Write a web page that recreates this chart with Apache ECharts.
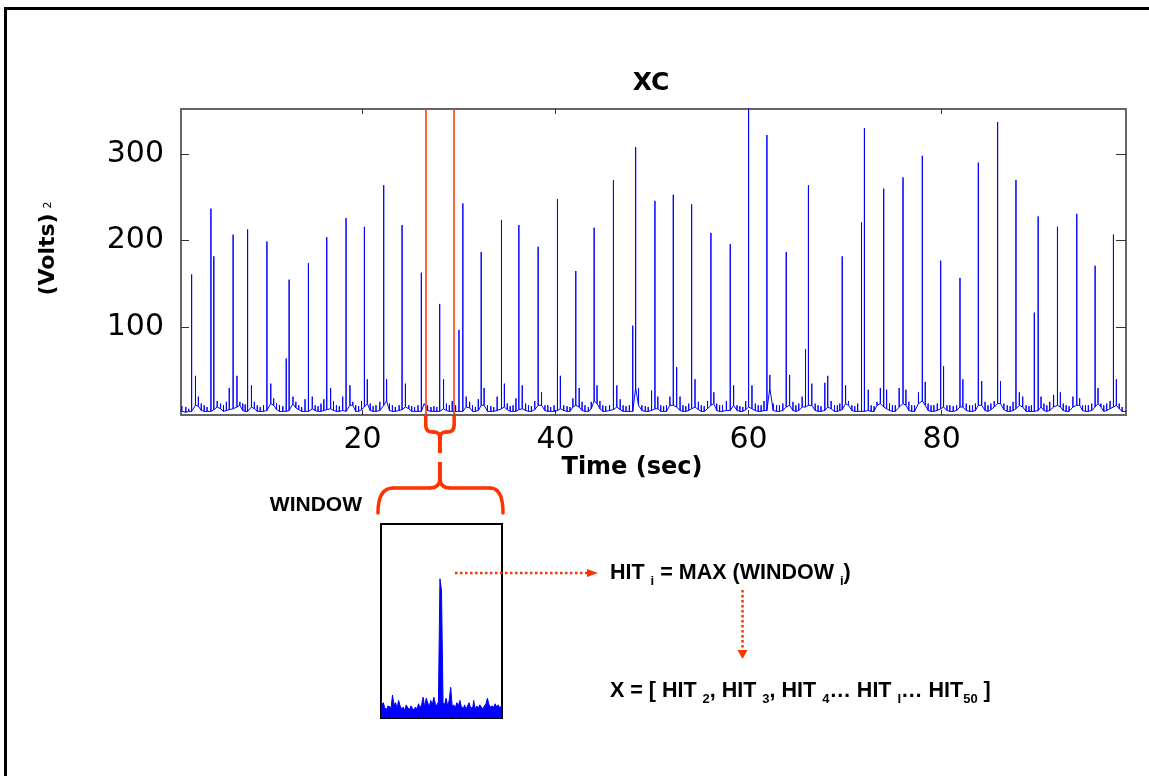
<!DOCTYPE html>
<html><head><meta charset="utf-8">
<script src="https://cdn.jsdelivr.net/npm/echarts@6/dist/echarts.min.js"></script>
<style>html,body{margin:0;padding:0;background:#fff}#c{width:1149px;height:776px}</style>
</head><body><div id="c"></div>
<script>
// ---------- DATA ----------
const chartTitle = 'XC';
const xName = 'Time (sec)';
const xMin = 1.2, xMax = 99.1;
const yMin = -1.2, yMax = 352;
const xTicks = [20, 40, 60, 80];
const yTicks = [100, 200, 300];
const windowStart = 26.55, windowEnd = 29.5;

// spikes of the XC trace: time (s), peak height, local baseline level
const spikeTime = [
  1.3, 1.7, 2.0, 2.3, 2.7, 3.0,
  3.3, 3.6, 3.9, 4.3, 4.6, 4.95,
  5.3, 5.6, 5.9, 6.2, 6.6, 7.0,
  7.3, 7.6, 7.85, 8.1, 8.5, 8.8,
  9.1, 9.4, 9.75, 10.1, 10.5, 10.8,
  11.1, 11.4, 11.75, 12.1, 12.4, 12.8,
  13.1, 13.4, 13.7, 14.05, 14.4, 14.8,
  15.1, 15.4, 15.7, 16.0, 16.3, 16.7,
  17.0, 17.3, 17.6, 17.95, 18.3, 18.7,
  19.0, 19.3, 19.6, 19.9, 20.2, 20.5,
  20.8, 21.1, 21.4, 21.8, 22.2, 22.5,
  22.8, 23.1, 23.4, 23.8, 24.1, 24.45,
  24.8, 25.1, 25.4, 25.75, 26.1, 26.4,
  26.75, 27.1, 27.4, 27.7, 28.0, 28.4,
  28.7, 29.0, 29.3, 29.65, 30.0, 30.4,
  30.75, 31.1, 31.4, 31.7, 32.0, 32.3,
  32.6, 32.95, 33.3, 33.6, 33.95, 34.4,
  34.7, 35.0, 35.3, 35.6, 35.9, 36.2,
  36.55, 36.9, 37.2, 37.5, 37.85, 38.2,
  38.55, 38.9, 39.2, 39.5, 39.85, 40.2,
  40.5, 40.85, 41.2, 41.5, 41.8, 42.1,
  42.45, 42.75, 43.05, 43.4, 43.7, 44.0,
  44.3, 44.6, 44.9, 45.2, 45.6, 46.0,
  46.35, 46.7, 47.0, 47.3, 47.65, 48.0,
  48.3, 48.6, 48.95, 49.3, 49.6, 49.95,
  50.3, 50.6, 50.9, 51.2, 51.5, 51.85,
  52.2, 52.55, 52.9, 53.2, 53.5, 53.8,
  54.1, 54.45, 54.8, 55.1, 55.4, 55.75,
  56.1, 56.4, 56.7, 57.0, 57.3, 57.7,
  58.1, 58.45, 58.8, 59.1, 59.4, 59.7,
  60.0, 60.35, 60.7, 61.0, 61.3, 61.6,
  61.9, 62.2, 62.55, 62.9, 63.2, 63.55,
  63.9, 64.25, 64.6, 64.9, 65.2, 65.55,
  65.9, 66.2, 66.55, 66.9, 67.2, 67.5,
  67.9, 68.2, 68.55, 68.9, 69.2, 69.45,
  69.7, 70.05, 70.35, 70.7, 71.0, 71.3,
  71.7, 72.0, 72.4, 72.7, 73.0, 73.3,
  73.65, 74.0, 74.3, 74.6, 74.9, 75.2,
  75.6, 76.0, 76.3, 76.6, 76.9, 77.2,
  77.6, 78.0, 78.3, 78.6, 78.9, 79.2,
  79.55, 79.9, 80.2, 80.55, 80.85, 81.2,
  81.55, 81.9, 82.2, 82.55, 82.9, 83.2,
  83.5, 83.8, 84.15, 84.5, 84.8, 85.1,
  85.45, 85.8, 86.1, 86.45, 86.8, 87.1,
  87.4, 87.7, 88.05, 88.4, 88.75, 89.05,
  89.3, 89.6, 90.0, 90.3, 90.6, 90.9,
  91.2, 91.6, 92.0, 92.3, 92.6, 92.9,
  93.2, 93.6, 94.0, 94.3, 94.6, 94.9,
  95.2, 95.55, 95.9, 96.2, 96.5, 96.8,
  97.1, 97.45, 97.8, 98.1, 98.4, 98.7
];
const spikeHeight = [
  9, 8, 6, 161, 44, 20,
  12, 10, 8, 237, 182, 15,
  12, 10, 14, 30, 207, 44,
  14, 12, 11, 213, 33, 14,
  10, 8, 10, 199, 35, 18,
  12, 10, 9, 64, 155, 20,
  14, 10, 8, 17, 174, 20,
  10, 9, 12, 17, 204, 30,
  15, 10, 9, 20, 226, 33,
  14, 10, 9, 15, 216, 40,
  12, 9, 10, 14, 264, 40,
  12, 10, 8, 10, 218, 35,
  10, 9, 8, 10, 163, 12,
  10, 8, 9, 8, 127, 40,
  12, 10, 15, 10, 97, 243,
  20, 14, 10, 8, 17, 187,
  30, 10, 9, 8, 20, 224,
  35, 12, 9, 10, 18, 218,
  33, 12, 10, 9, 15, 193,
  25, 10, 10, 8, 10, 248,
  44, 10, 9, 8, 18, 165,
  30, 14, 10, 8, 14, 215,
  33, 15, 10, 9, 10, 270,
  33, 17, 10, 9, 10, 102,
  308, 30, 10, 9, 8, 27,
  246, 20, 10, 9, 10, 20,
  253, 54, 20, 10, 9, 12,
  242, 40, 14, 10, 9, 15,
  209, 25, 12, 10, 10, 15,
  196, 33, 10, 9, 8, 15,
  360, 33, 12, 10, 10, 15,
  322, 45, 12, 10, 10, 12,
  187, 45, 14, 10, 12, 20,
  75, 264, 35, 12, 10, 9,
  36, 44, 15, 10, 10, 12,
  182, 33, 15, 10, 9, 12,
  221, 330, 28, 10, 9, 14,
  30, 260, 28, 12, 10, 10,
  30, 273, 28, 14, 10, 10,
  25, 298, 37, 12, 10, 10,
  12, 177, 55, 10, 10, 9,
  10, 157, 40, 12, 10, 10,
  12, 290, 38, 14, 10, 12,
  15, 337, 38, 12, 10, 9,
  14, 270, 25, 20, 10, 9,
  10, 117, 228, 20, 12, 10,
  14, 22, 216, 25, 12, 10,
  9, 20, 231, 18, 10, 10,
  10, 12, 171, 30, 12, 10,
  12, 15, 207, 40, 12, 8
];
const spikeBase = [
  3, 2, 3, 3, 10, 9,
  4, 3, 3, 3, 5, 8,
  6, 3, 4, 5, 6, 8,
  10, 4, 3, 3, 8, 6,
  3, 3, 3, 4, 12, 10,
  5, 3, 3, 3, 4, 12,
  7, 5, 3, 3, 3, 6,
  4, 3, 3, 4, 5, 6,
  4, 3, 3, 4, 3, 10,
  10, 3, 3, 5, 8, 12,
  4, 3, 3, 4, 10, 15,
  4, 3, 3, 4, 5, 8,
  6, 3, 3, 3, 3, 12,
  4, 3, 3, 3, 3, 6,
  4, 3, 3, 3, 3, 3,
  8, 7, 3, 3, 4, 10,
  10, 3, 3, 3, 4, 6,
  8, 5, 3, 3, 3, 5,
  6, 4, 3, 3, 5, 10,
  10, 4, 3, 3, 3, 4,
  6, 4, 3, 3, 8, 10,
  8, 4, 3, 3, 6, 15,
  12, 6, 3, 3, 4, 5,
  8, 5, 3, 3, 3, 3,
  30, 10, 4, 3, 3, 4,
  6, 6, 3, 3, 3, 10,
  10, 8, 4, 3, 3, 4,
  6, 8, 5, 3, 3, 6,
  10, 12, 4, 3, 3, 4,
  4, 10, 4, 3, 3, 5,
  8, 6, 4, 3, 3, 4,
  4, 30, 4, 3, 3, 4,
  8, 10, 4, 3, 4, 8,
  8, 10, 10, 4, 3, 3,
  4, 8, 6, 3, 3, 4,
  5, 12, 10, 4, 3, 3,
  3, 3, 4, 3, 3, 10,
  12, 8, 6, 4, 3, 3,
  8, 12, 10, 4, 3, 3,
  12, 15, 10, 4, 3, 3,
  4, 6, 8, 4, 3, 3,
  4, 8, 8, 4, 3, 3,
  4, 10, 10, 4, 3, 5,
  8, 12, 12, 5, 3, 3,
  4, 6, 10, 8, 3, 3,
  3, 3, 4, 8, 4, 3,
  4, 8, 10, 8, 4, 3,
  3, 8, 10, 10, 4, 3,
  3, 4, 8, 12, 8, 3,
  4, 6, 8, 10, 6, 3
];

// zoomed window (26.5 - 29.5 s), finer bins
const windowValues = [
  16, 12, 14, 9, 8, 11, 10, 8, 21, 12,
  14, 9, 16, 11, 8, 10, 7, 12, 9, 8,
  11, 9, 7, 10, 8, 13, 9, 12, 19, 10,
  18, 14, 10, 16, 12, 19, 13, 11, 15, 127,
  116, 14, 12, 18, 11, 16, 28, 10, 12, 9,
  14, 11, 16, 10, 9, 12, 8, 11, 14, 9,
  10, 16, 8, 11, 9, 12, 10, 8, 11, 13,
  18, 12, 10, 11, 9, 13, 10, 12, 9, 11
];
const windowMax = 177;

// ---------- BUILD ----------
const trace = [[xMin, 3]];
for (let i = 0; i < spikeTime.length; i++) {
  trace.push([spikeTime[i], spikeBase[i]]);
  trace.push([spikeTime[i], spikeHeight[i]]);
  trace.push([spikeTime[i], spikeBase[i]]);
}
trace.push([xMax, 3]);
const windowBins = windowValues.map((v, i) => String(i));

const blue = '#0000ff';
const red = '#ff3300';
const axisGray = '#666666';
const numFont = 'DejaVu Sans';

const option = {
  animation: false,
  backgroundColor: '#ffffff',
  title: {
    text: chartTitle, left: 646, top: 66, textAlign: 'center',
    textStyle: { fontFamily: numFont, fontWeight: 'bold', fontSize: 25, color: '#000' }
  },
  grid: [
    { left: 181, right: 23, top: 109, bottom: 361, show: false },
    { left: 381, top: 524, width: 121, height: 194, show: true, borderColor: '#000', borderWidth: 2, backgroundColor: 'rgba(0,0,0,0)' }
  ],
  xAxis: [
    {
      gridIndex: 0, type: 'value', min: xMin, max: xMax, position: 'bottom',
      name: xName, nameLocation: 'middle', nameGap: 41,
      nameTextStyle: { fontFamily: numFont, fontWeight: 'bold', fontSize: 24, color: '#000', padding: [0, 43, 0, 0] },
      axisLine: { show: true, onZero: false, lineStyle: { color: axisGray, width: 2 } },
      axisTick: { show: true, inside: true, length: 5, customValues: xTicks, lineStyle: { color: '#333', width: 1 } },
      axisLabel: { show: true, customValues: xTicks, margin: 10, fontFamily: numFont, fontSize: 30, color: '#000' },
      splitLine: { show: false }
    },
    {
      gridIndex: 0, type: 'value', min: xMin, max: xMax, position: 'top',
      axisLine: { show: true, onZero: false, lineStyle: { color: axisGray, width: 2 } },
      axisTick: { show: true, inside: true, length: 5, customValues: xTicks, lineStyle: { color: '#333', width: 1 } },
      axisLabel: { show: false },
      splitLine: { show: false }
    },
    { gridIndex: 1, type: 'category', data: windowBins, show: false, boundaryGap: false }
  ],
  yAxis: [
    {
      gridIndex: 0, type: 'value', min: yMin, max: yMax, position: 'left',
      name: '{a|(Volts)}{b|2}', nameLocation: 'middle', nameGap: 120,
      nameTextStyle: {
        padding: [0, 0, 0, 27],
        rich: {
          a: { fontFamily: numFont, fontWeight: 'bold', fontSize: 22, color: '#000', lineHeight: 26 },
          b: { fontFamily: numFont, fontSize: 11, color: '#000', lineHeight: 12, verticalAlign: 'middle', padding: [0, 0, 0, 5] }
        }
      },
      axisLine: { show: true, onZero: false, lineStyle: { color: axisGray, width: 2 } },
      axisTick: { show: true, inside: true, length: 8, customValues: yTicks, lineStyle: { color: '#333', width: 1 } },
      axisLabel: { show: true, customValues: yTicks, margin: 17, fontFamily: numFont, fontSize: 30, color: '#000' },
      splitLine: { show: false }
    },
    {
      gridIndex: 0, type: 'value', min: yMin, max: yMax, position: 'right',
      axisLine: { show: true, onZero: false, lineStyle: { color: axisGray, width: 2 } },
      axisTick: { show: true, inside: true, length: 10, customValues: yTicks, lineStyle: { color: '#333', width: 1 } },
      axisLabel: { show: false },
      splitLine: { show: false }
    },
    { gridIndex: 1, type: 'value', min: 0, max: windowMax, show: false }
  ],
  series: [
    {
      type: 'line', xAxisIndex: 0, yAxisIndex: 0, data: trace,
      showSymbol: false, symbol: 'none', sampling: null, clip: true,
      lineStyle: { color: blue, width: 1 },
      markLine: {
        silent: true, symbol: ['none', 'none'], label: { show: false },
        lineStyle: { color: red, width: 1.5, type: 'solid' },
        data: [{ xAxis: windowStart }, { xAxis: windowEnd }]
      }
    },
    {
      type: 'line', xAxisIndex: 2, yAxisIndex: 2, data: windowValues,
      step: 'middle', showSymbol: false, symbol: 'none',
      lineStyle: { color: blue, width: 1 },
      areaStyle: { color: blue, opacity: 1 }
    }
  ]
};

const chart = echarts.init(document.getElementById('c'), null, { renderer: 'canvas' });
chart.setOption(option);

// ---------- ANNOTATIONS ----------
const xa = chart.convertToPixel({ xAxisIndex: 0 }, windowStart);
const xb = chart.convertToPixel({ xAxisIndex: 0 }, windowEnd);
const yb = chart.convertToPixel({ yAxisIndex: 0 }, yMin);
const xm = (xa + xb) / 2;
const bx0 = 381, bx1 = 502;
const braceStyle = { stroke: red, lineWidth: 3.5, lineCap: 'round', fill: null };
const dotStyle = { stroke: red, lineWidth: 2.5, lineDash: [2.5, 2.5], fill: null };
const subFont = { fontFamily: 'Liberation Sans', fontWeight: 'bold', fontSize: 13, lineHeight: 13, verticalAlign: 'bottom', fill: '#000', color: '#000' };
const bigFont = { fontFamily: 'Liberation Sans', fontWeight: 'bold', fontSize: 21.5, lineHeight: 30, fill: '#000', color: '#000' };

const g = [
  { type: 'rect', silent: true, shape: { x: 5.5, y: 8.5, width: 1200, height: 800 }, style: { fill: null, stroke: '#000', lineWidth: 3 } },
  // small brace under the window
  { type: 'line', silent: true, shape: { x1: xa, y1: yb, x2: xa, y2: 425 }, style: braceStyle },
  { type: 'bezierCurve', silent: true, shape: { x1: xa, y1: 425, x2: xa + 7, y2: 432, cpx1: xa, cpy1: 432 }, style: braceStyle },
  { type: 'line', silent: true, shape: { x1: xa + 7, y1: 432, x2: xm - 6, y2: 432 }, style: braceStyle },
  { type: 'bezierCurve', silent: true, shape: { x1: xm - 6, y1: 432, x2: xm, y2: 438, cpx1: xm, cpy1: 432 }, style: braceStyle },
  { type: 'line', silent: true, shape: { x1: xb, y1: yb, x2: xb, y2: 425 }, style: braceStyle },
  { type: 'bezierCurve', silent: true, shape: { x1: xb, y1: 425, x2: xb - 7, y2: 432, cpx1: xb, cpy1: 432 }, style: braceStyle },
  { type: 'line', silent: true, shape: { x1: xb - 7, y1: 432, x2: xm + 6, y2: 432 }, style: braceStyle },
  { type: 'bezierCurve', silent: true, shape: { x1: xm + 6, y1: 432, x2: xm, y2: 438, cpx1: xm, cpy1: 432 }, style: braceStyle },
  { type: 'line', silent: true, shape: { x1: xm, y1: 436, x2: xm, y2: 453 }, style: { stroke: red, lineWidth: 4, lineCap: 'butt' } },
  // big brace over the inset
  { type: 'line', silent: true, shape: { x1: xm, y1: 462, x2: xm, y2: 478 }, style: { stroke: red, lineWidth: 4, lineCap: 'butt' } },
  { type: 'bezierCurve', silent: true, shape: { x1: xm, y1: 478, x2: xm - 10, y2: 488, cpx1: xm, cpy1: 488 }, style: braceStyle },
  { type: 'bezierCurve', silent: true, shape: { x1: xm, y1: 478, x2: xm + 10, y2: 488, cpx1: xm, cpy1: 488 }, style: braceStyle },
  { type: 'line', silent: true, shape: { x1: xm - 10, y1: 488, x2: bx0 + 12, y2: 488 }, style: braceStyle },
  { type: 'line', silent: true, shape: { x1: xm + 10, y1: 488, x2: bx1 - 12, y2: 488 }, style: braceStyle },
  { type: 'bezierCurve', silent: true, shape: { x1: bx0 + 12, y1: 488, x2: bx0 - 3, y2: 513, cpx1: bx0 - 3, cpy1: 488 }, style: braceStyle },
  { type: 'bezierCurve', silent: true, shape: { x1: bx1 - 12, y1: 488, x2: bx1 + 1, y2: 513, cpx1: bx1 + 1, cpy1: 488 }, style: braceStyle },
  // WINDOW label
  { type: 'text', silent: true, x: 362, y: 505, style: { text: 'WINDOW', font: 'bold 21px "Liberation Sans", Arial, sans-serif', fill: '#000', align: 'right', verticalAlign: 'middle' } },
  // dotted arrows
  { type: 'line', silent: true, shape: { x1: 455, y1: 573, x2: 588, y2: 573 }, style: dotStyle },
  { type: 'polygon', silent: true, shape: { points: [[587, 569], [598, 573], [587, 577]] }, style: { fill: red } },
  { type: 'line', silent: true, shape: { x1: 742.5, y1: 590, x2: 742.5, y2: 650 }, style: dotStyle },
  { type: 'polygon', silent: true, shape: { points: [[737.5, 650], [747.5, 650], [742.5, 659]] }, style: { fill: red } },
  // formulas
  { type: 'text', silent: true, x: 610, y: 573, style: {
      text: '{b|HIT }{s|i}{b| = MAX (WINDOW }{s|i}{b|)}', verticalAlign: 'middle', align: 'left',
      rich: { b: bigFont, s: subFont } } },
  { type: 'text', silent: true, x: 610, y: 691, style: {
      text: '{b|X = [ HIT }{s|2}{b|, HIT }{s|3}{b|, HIT }{s|4}{b|\u2026 HIT }{s|I}{b|\u2026 HIT}{s|50}{b| ]}', verticalAlign: 'middle', align: 'left',
      rich: { b: bigFont, s: subFont } } }
];
chart.setOption({ graphic: g });
</script></body></html>
